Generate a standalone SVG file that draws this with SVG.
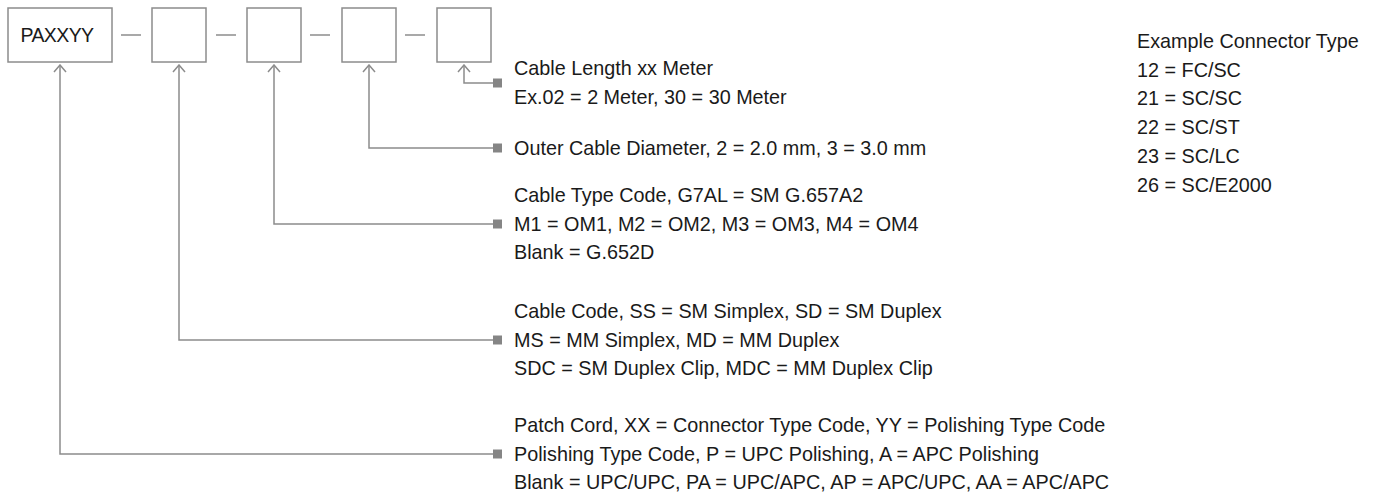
<svg xmlns="http://www.w3.org/2000/svg" width="1378" height="494" viewBox="0 0 1378 494">
<defs>
<style>
.box{fill:#fff;stroke:#8c8c8c;stroke-width:1.5}
.ln{fill:none;stroke:#8c8c8c;stroke-width:1.5}
.mk{fill:#858585}
.t{font-family:"Liberation Sans",Arial,sans-serif;font-size:19.8px;fill:#1a1a1a}
.bt{font-family:"Liberation Sans",Arial,sans-serif;font-size:19.5px;letter-spacing:-0.6px;fill:#1a1a1a}
</style>
<marker id="arr" viewBox="0 0 10 14" refX="1" refY="7" markerWidth="10" markerHeight="14" markerUnits="userSpaceOnUse" orient="auto">
<path d="M8,1 L1,7 L8,13" fill="none" stroke="#8c8c8c" stroke-width="1.5"/>
</marker>
</defs>
<rect width="1378" height="494" fill="#fff"/>
<g id="node-paxxyy"><rect class="box" x="8" y="8" width="104" height="54"/><text class="bt" x="57" y="42" text-anchor="middle">PAXXYY</text></g>
<g id="node-cable"><rect class="box" x="152" y="8" width="54" height="54"/></g>
<g id="node-type"><rect class="box" x="247" y="8" width="54" height="54"/></g>
<g id="node-diameter"><rect class="box" x="342" y="8" width="54" height="54"/></g>
<g id="node-length"><rect class="box" x="437" y="8" width="54" height="54"/></g>
<g id="dashes">
<line class="ln" x1="121" y1="35" x2="141" y2="35"/>
<line class="ln" x1="216" y1="35" x2="236" y2="35"/>
<line class="ln" x1="310" y1="35" x2="330" y2="35"/>
<line class="ln" x1="405" y1="35" x2="425" y2="35"/>
</g>
<g id="connectors">
<path class="ln" d="M60,65 V454 H493" marker-start="url(#arr)"/>
<path class="ln" d="M179,65 V340 H493" marker-start="url(#arr)"/>
<path class="ln" d="M274,65 V224 H493" marker-start="url(#arr)"/>
<path class="ln" d="M369,65 V148 H493" marker-start="url(#arr)"/>
<path class="ln" d="M464,65 V83 H493" marker-start="url(#arr)"/>
<rect class="mk" x="493" y="78.5" width="9" height="9"/>
<rect class="mk" x="493" y="143.5" width="9" height="9"/>
<rect class="mk" x="493" y="219.5" width="9" height="9"/>
<rect class="mk" x="493" y="335.5" width="9" height="9"/>
<rect class="mk" x="493" y="449.5" width="9" height="9"/>
</g>
<g id="label-length">
<text class="t" x="514" y="75">Cable Length xx Meter</text>
<text class="t" x="514" y="104">Ex.02 = 2 Meter, 30 = 30 Meter</text>
</g>
<g id="label-diameter">
<text class="t" x="514" y="155">Outer Cable Diameter, 2 = 2.0 mm, 3 = 3.0 mm</text>
</g>
<g id="label-type">
<text class="t" x="514" y="202">Cable Type Code, G7AL = SM G.657A2</text>
<text class="t" x="514" y="231">M1 = OM1, M2 = OM2, M3 = OM3, M4 = OM4</text>
<text class="t" x="514" y="259">Blank = G.652D</text>
</g>
<g id="label-cable">
<text class="t" x="514" y="318">Cable Code, SS = SM Simplex, SD = SM Duplex</text>
<text class="t" x="514" y="347">MS = MM Simplex, MD = MM Duplex</text>
<text class="t" x="514" y="375">SDC = SM Duplex Clip, MDC = MM Duplex Clip</text>
</g>
<g id="label-patch">
<text class="t" x="514" y="432">Patch Cord, XX = Connector Type Code, YY = Polishing Type Code</text>
<text class="t" x="514" y="461">Polishing Type Code, P = UPC Polishing, A = APC Polishing</text>
<text class="t" x="514" y="489">Blank = UPC/UPC, PA = UPC/APC, AP = APC/UPC, AA = APC/APC</text>
</g>
<g id="legend">
<text class="t" x="1137" y="48">Example Connector Type</text>
<text class="t" x="1137" y="77">12 = FC/SC</text>
<text class="t" x="1137" y="105">21 = SC/SC</text>
<text class="t" x="1137" y="134">22 = SC/ST</text>
<text class="t" x="1137" y="163">23 = SC/LC</text>
<text class="t" x="1137" y="192">26 = SC/E2000</text>
</g>
</svg>
